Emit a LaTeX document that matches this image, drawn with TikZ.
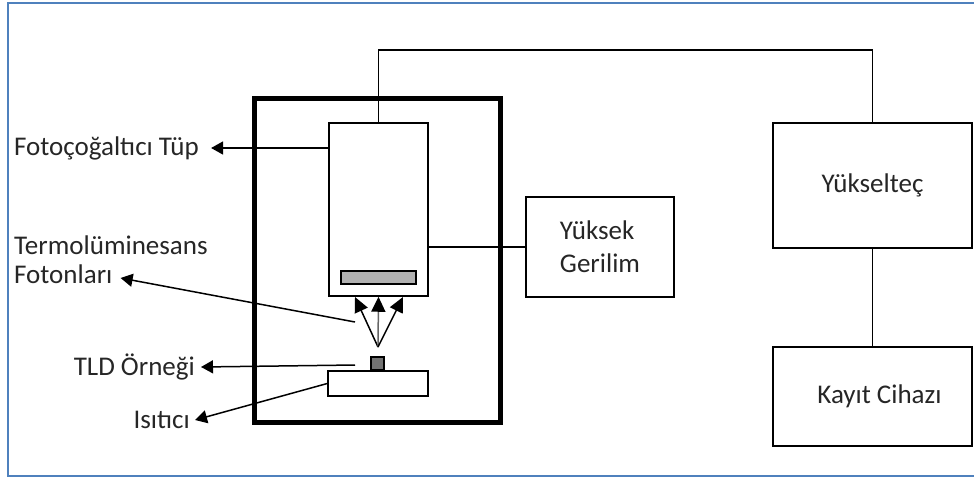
\documentclass[tikz,border=0pt]{standalone}
\usepackage{fontspec}
\setmainfont{Carlito}
\usetikzlibrary{arrows.meta}
\definecolor{frameblue}{RGB}{79,129,189}
\tikzset{
  box/.style={draw, line width=1.5pt, inner sep=0pt},
  lbl/.style={inner sep=0pt, text=black!85, font=\fontsize{27}{33}\selectfont},
  arr/.style={line width=1.5pt, -{Triangle[length=12pt,width=13pt]}},
  ray/.style={line width=1.5pt, -{Triangle[length=15pt,width=14pt,color=black]}}
}
\begin{document}
\begin{tikzpicture}[x=1pt, y=-1pt]
        \useasboundingbox (0,0) rectangle (974,477);
        % Frame
        \draw[frameblue, line width=2pt] (980,3) -- (8,3) -- (8,476) -- (980,476);
        % Reader chamber
        \node (chamber) at (377,260) [box, line width=5pt, minimum width=246, minimum height=324] {};
        \node (pmt) at (378.5,209.5) [box, minimum width=99, minimum height=173] {};
        \node (cathode) at (378.5,277.5) [box, fill=black!30, minimum width=75, minimum height=13] {};
        \node (heater) at (378,383.5) [box, minimum width=100, minimum height=25] {};
        \node (tld) at (377.5,363.5) [box, fill=black!55, minimum width=13, minimum height=13] {};
        % Outside units
        \node (hv) at (600,247) [box, lbl, minimum width=148, minimum height=100, align=left] {Yüksek\\Gerilim};
        \node (amp) at (872.5,185.5) [box, lbl, minimum width=199, minimum height=125] {Yükselteç};
        \node (rec) at (872.5,396.5) [box, lbl, minimum width=199, minimum height=99] {\hspace{14pt}Kayıt Cihazı};
        % Labels
        \node (lbl_pmt) at (14,148) [lbl, anchor=west] {Fotoçoğaltıcı Tüp};
        \node (lbl_tl) at (14,245) [lbl, anchor=west] {Termolüminesans};
        \node (lbl_fot) at (14,274) [lbl, anchor=west] {Fotonları};
        \node (lbl_tld) at (195,367) [lbl, anchor=east] {TLD Örneği};
        \node (lbl_heat) at (190,420) [lbl, anchor=east] {Isıtıcı};
        % Points
        \coordinate (pmt_out) at (329,148);
        \coordinate (fot_out) at (355,322);
        \coordinate (tld_out) at (355,365);
        \coordinate (src) at (378,347);
        \coordinate (ph_l) at (355,297);
        \coordinate (ph_r) at (403,297);
        \coordinate (wire_top) at (600,50);
        % Photons
        \draw[ray] (src) -- (ph_l);
        \draw[ray, black!60] (src) -- (pmt.south);
        \draw[ray] (src) -- (ph_r);
        % Wires
        \draw[line width=1.5pt] (pmt.north) |- (wire_top) -| (amp.north);
        \draw[line width=1.5pt] (pmt.east |- hv.west) -- (hv.west);
        \draw[line width=1.5pt] (amp.south) -- (rec.north);
        % Label arrows
        \draw[arr] (pmt_out) -- ([xshift=12pt]lbl_pmt.east);
        \draw[arr] (fot_out) -- ([xshift=8pt,yshift=-4pt]lbl_fot.east);
        \draw[arr] (tld_out) -- ([xshift=6pt]lbl_tld.east);
        \draw[arr] (heater.west) -- ([xshift=5pt]lbl_heat.east);
      \end{tikzpicture}
\end{document}
